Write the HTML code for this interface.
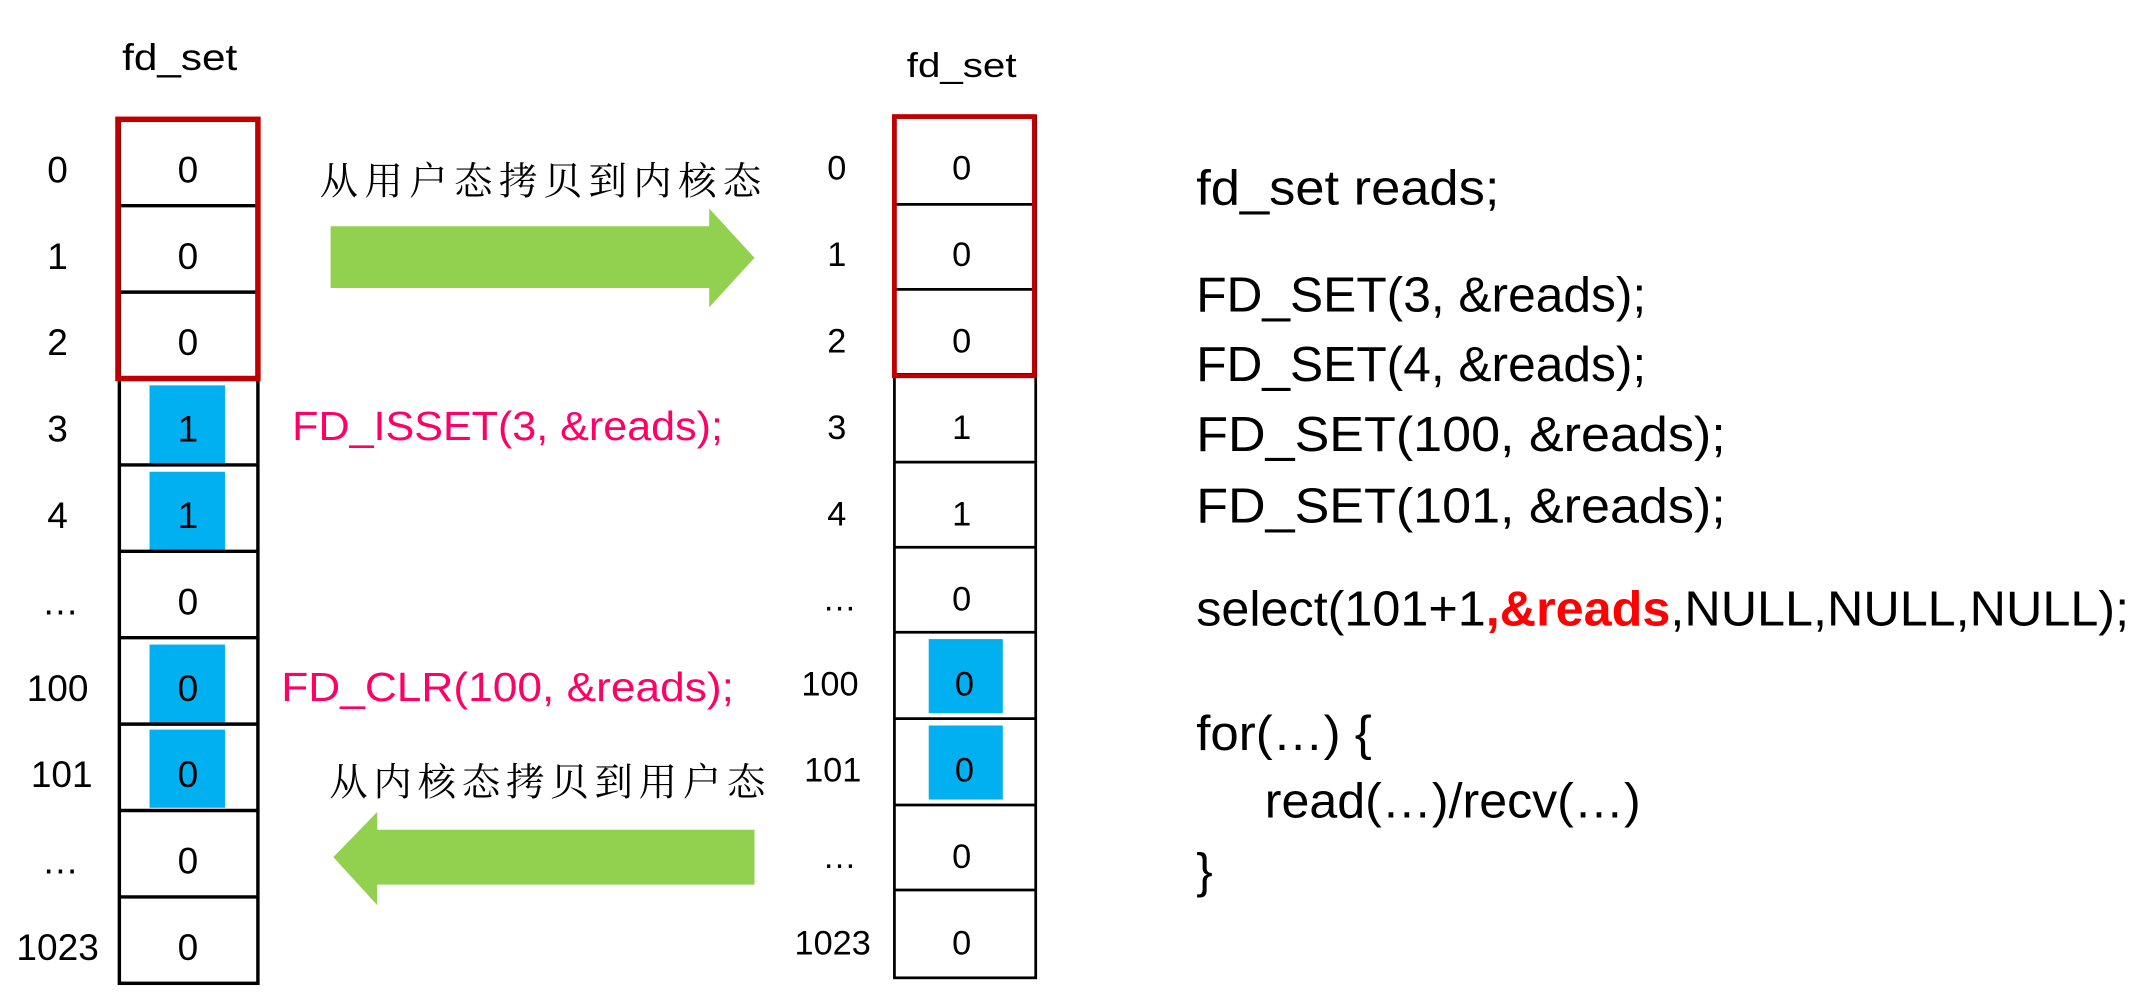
<!DOCTYPE html>
<html><head><meta charset="utf-8"><style>
html,body{margin:0;padding:0;background:#fff;}
svg{display:block;}
</style></head><body>
<svg width="2151" height="1008" viewBox="0 0 1568 735" preserveAspectRatio="none" xmlns="http://www.w3.org/2000/svg">
<g font-family="'Liberation Sans', sans-serif" fill="#000">
<!-- LEFT TABLE -->
<text x="131" y="51" font-size="27" text-anchor="middle" textLength="84" lengthAdjust="spacingAndGlyphs">fd_set</text>
<g fill="#00b0f0">
<rect x="109" y="281" width="55" height="57"/>
<rect x="109" y="344" width="55" height="57"/>
<rect x="109" y="470" width="55" height="57"/>
<rect x="109" y="532" width="55" height="57"/>
</g>
<g stroke="#000" stroke-width="2.5" fill="none">
<rect x="87" y="87" width="101" height="630"/>
<line x1="87" y1="150" x2="188" y2="150"/><line x1="87" y1="213" x2="188" y2="213"/>
<line x1="87" y1="276" x2="188" y2="276"/><line x1="87" y1="339" x2="188" y2="339"/>
<line x1="87" y1="402" x2="188" y2="402"/><line x1="87" y1="465" x2="188" y2="465"/>
<line x1="87" y1="528" x2="188" y2="528"/><line x1="87" y1="591" x2="188" y2="591"/>
<line x1="87" y1="654" x2="188" y2="654"/>
</g>
<rect x="86" y="87" width="102" height="189" fill="none" stroke="#c00000" stroke-width="4"/>
<g font-size="27" text-anchor="middle">
<text x="137" y="133">0</text><text x="137" y="196">0</text><text x="137" y="259">0</text>
<text x="137" y="322">1</text><text x="137" y="385">1</text><text x="137" y="448">0</text>
<text x="137" y="511">0</text><text x="137" y="574">0</text><text x="137" y="637">0</text><text x="137" y="700">0</text>
<text x="42" y="133">0</text><text x="42" y="196">1</text><text x="42" y="259">2</text>
<text x="42" y="322">3</text><text x="42" y="385">4</text><text x="44" y="448">…</text>
<text x="42" y="511">100</text><text x="45" y="574">101</text><text x="44" y="637">…</text><text x="42" y="700">1023</text>
</g>
<!-- RIGHT TABLE -->
<text x="701" y="56" font-size="25" text-anchor="middle" textLength="80" lengthAdjust="spacingAndGlyphs">fd_set</text>
<g fill="#00b0f0">
<rect x="677" y="466" width="54" height="54"/>
<rect x="677" y="529" width="54" height="54"/>
</g>
<g stroke="#000" stroke-width="2" fill="none">
<rect x="652" y="85" width="103" height="628"/>
<line x1="652" y1="149" x2="755" y2="149"/><line x1="652" y1="211" x2="755" y2="211"/>
<line x1="652" y1="273" x2="755" y2="273"/><line x1="652" y1="337" x2="755" y2="337"/>
<line x1="652" y1="399" x2="755" y2="399"/><line x1="652" y1="461" x2="755" y2="461"/>
<line x1="652" y1="524" x2="755" y2="524"/><line x1="652" y1="587" x2="755" y2="587"/>
<line x1="652" y1="649" x2="755" y2="649"/>
</g>
<rect x="652" y="85" width="102" height="189" fill="none" stroke="#c00000" stroke-width="3.5"/>
<g font-size="25" text-anchor="middle">
<text x="701" y="131">0</text><text x="701" y="194">0</text><text x="701" y="257">0</text>
<text x="701" y="320">1</text><text x="701" y="383">1</text><text x="701" y="445">0</text>
<text x="703" y="507">0</text><text x="703" y="570">0</text><text x="701" y="633">0</text><text x="701" y="696">0</text>
<text x="610" y="131">0</text><text x="610" y="194">1</text><text x="610" y="257">2</text>
<text x="610" y="320">3</text><text x="610" y="383">4</text><text x="612" y="445">…</text>
<text x="605" y="507">100</text><text x="607" y="570">101</text><text x="612" y="633">…</text><text x="607" y="696">1023</text>
</g>
<!-- ARROWS -->
<polygon points="241,165 517,165 517,152 550,188 517,224 517,210 241,210" fill="#92d050"/>
<polygon points="550,605 275,605 275,592 243,625 275,660 275,645 550,645" fill="#92d050"/>
<!-- CHINESE -->
<g font-family="'Liberation Serif','Noto Serif CJK SC',serif" font-size="28">
<text x="233" y="142" textLength="322" lengthAdjust="spacing">从用户态拷贝到内核态</text>
<text x="240" y="580" textLength="318" lengthAdjust="spacing">从内核态拷贝到用户态</text>
</g>
<!-- PINK -->
<g fill="#ff0066" font-size="30">
<text x="213" y="321" textLength="314" lengthAdjust="spacingAndGlyphs">FD_ISSET(3, &amp;reads);</text>
<text x="205" y="511" textLength="330" lengthAdjust="spacingAndGlyphs">FD_CLR(100, &amp;reads);</text>
</g>
<!-- CODE -->
<g font-size="36">
<text x="872" y="149" textLength="221" lengthAdjust="spacingAndGlyphs">fd_set reads;</text>
<text x="872" y="227" textLength="328" lengthAdjust="spacingAndGlyphs">FD_SET(3, &amp;reads);</text>
<text x="872" y="278" textLength="328" lengthAdjust="spacingAndGlyphs">FD_SET(4, &amp;reads);</text>
<text x="872" y="329" textLength="386" lengthAdjust="spacingAndGlyphs">FD_SET(100, &amp;reads);</text>
<text x="872" y="381" textLength="386" lengthAdjust="spacingAndGlyphs">FD_SET(101, &amp;reads);</text>
<text x="872" y="456" textLength="680" lengthAdjust="spacingAndGlyphs">select(101+1<tspan fill="#ff0000" font-weight="bold">,&amp;reads</tspan>,NULL,NULL,NULL);</text>
<text x="872" y="547" textLength="128" lengthAdjust="spacingAndGlyphs">for(…) {</text>
<text x="922" y="596" textLength="274" lengthAdjust="spacingAndGlyphs">read(…)/recv(…)</text>
<text x="872" y="647">}</text>
</g>
</g>
</svg>
</body></html>
